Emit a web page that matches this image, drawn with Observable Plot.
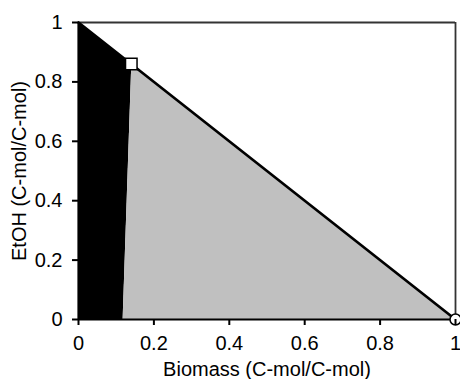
<!DOCTYPE html>
<html><head><meta charset="utf-8">
<script src="https://cdn.jsdelivr.net/npm/d3@7"></script>
<script src="https://cdn.jsdelivr.net/npm/@observablehq/plot@0.6"></script>
<style>body{margin:0;background:#fff;} svg{display:block;}</style>
</head><body><div id="chart"></div>
<script>
const tickValues = [0, 0.2, 0.4, 0.6, 0.8, 1];
const diagonalX = [0, 1];
const diagonalY = [1, 0];
const blackRegionX = [0, 0.14, 0.117, 0];
const blackRegionY = [1, 0.86, 0, 0];
const grayRegionX = [0.14, 1, 0.117];
const grayRegionY = [0.86, 0, 0];
const squarePoint = {x: 0.14, y: 0.86};
const circlePoint = {x: 1, y: 0};

const pts = (xs, ys) => xs.map((x, i) => ({x, y: ys[i]}));

const chart = Plot.plot({
  width: 460, height: 379,
  marginLeft: 78, marginRight: 5, marginTop: 22, marginBottom: 60,
  style: {fontFamily: "Liberation Sans, Arial, sans-serif", color: "#000", background: "#fff", fontSize: "20px"},
  x: {domain: [0, 1]},
  y: {domain: [0, 1]},
  marks: [
    Plot.line(pts(blackRegionX, blackRegionY), {x: "x", y: "y", fill: "#000", stroke: "none"}),
    Plot.line(pts(grayRegionX, grayRegionY), {x: "x", y: "y", fill: "#c0c0c0", stroke: "none"}),
    Plot.ruleY([1], {stroke: "#333", strokeWidth: 1.8}),
    Plot.ruleX([1], {stroke: "#333", strokeWidth: 1.8}),
    Plot.ruleX([0], {stroke: "#000", strokeWidth: 2.2}),
    Plot.ruleY([0], {stroke: "#000", strokeWidth: 2.2}),
    Plot.line(pts(diagonalX, diagonalY), {x: "x", y: "y", stroke: "#000", strokeWidth: 2.7}),
    Plot.dot([squarePoint], {x: "x", y: "y", symbol: "square", r: 6.5, fill: "#fff", stroke: "#000", strokeWidth: 1.5}),
    Plot.dot([circlePoint], {x: "x", y: "y", symbol: "circle", r: 5.5, fill: "#fff", stroke: "#000", strokeWidth: 1.5}),
    Plot.axisX({ticks: tickValues, tickFormat: d => String(d), tickSize: 6, tickPadding: 10, strokeWidth: 2, label: null, fontSize: 20}),
    Plot.axisY({ticks: tickValues, tickFormat: d => String(d), tickSize: 6, tickPadding: 10, strokeWidth: 2, label: null, fontSize: 20}),
    Plot.axisX({ticks: [], label: "Biomass (C-mol/C-mol)", labelAnchor: "center", labelArrow: "none", labelOffset: 56, fontSize: 20}),
    Plot.axisY({ticks: [], label: "EtOH (C-mol/C-mol)", labelAnchor: "center", labelArrow: "none", labelOffset: 67, fontSize: 20})
  ]
});
const svg = d3.select(chart);
svg.selectAll("text").style("font-family", "'Liberation Sans', Arial, sans-serif").style("fill", "#000").style("font-size", "20px");
document.getElementById("chart").appendChild(chart);
</script></body></html>
